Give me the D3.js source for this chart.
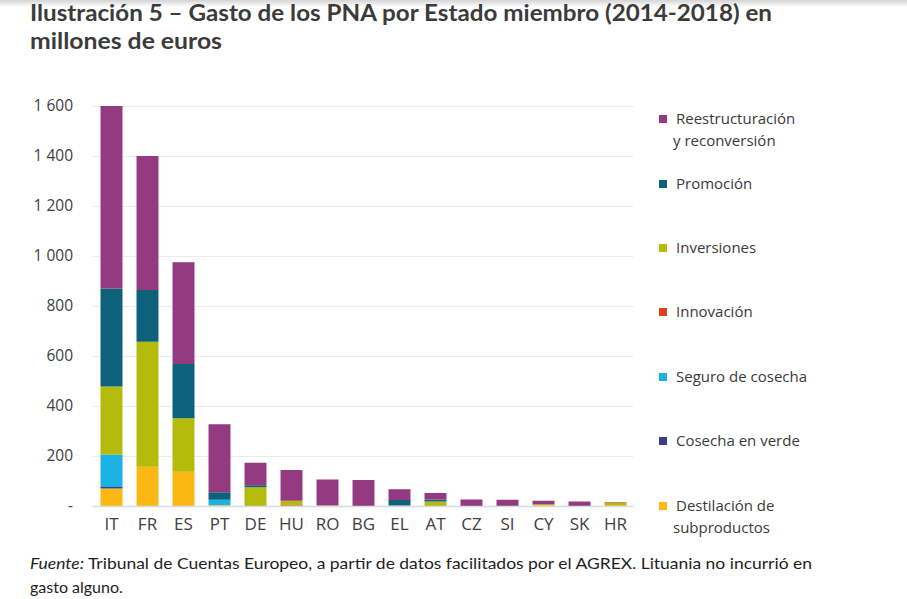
<!DOCTYPE html>
<html>
<head>
<meta charset="utf-8">
<script src="https://cdn.jsdelivr.net/npm/d3@7"></script>
<style>
  body { margin: 0; background: #fff; }
  svg { display: block; }
</style>
</head>
<body>
<div id="chart"></div>
<script>
// Estados miembros, en el orden del gráfico
var paises = ["IT", "FR", "ES", "PT", "DE", "HU", "RO", "BG", "EL", "AT", "CZ", "SI", "CY", "SK", "HR"];

var destilacion      = [70, 157, 137, 3, 0, 0, 0, 0, 0, 0, 0, 0, 3, 0, 4];
var cosechaVerde     = [6, 0, 0, 0, 0, 0, 0, 0, 0, 0, 0, 0, 0, 0, 0];
var seguroCosecha    = [130, 0, 0, 22, 0, 0, 0, 0, 0, 0, 0, 0, 0, 0, 0];
var innovacion       = [0, 0, 0, 0, 0, 3, 0, 0, 0, 0, 0, 0, 0, 0, 0];
var inversiones      = [272, 500, 214, 0, 75, 18, 2, 0, 2, 18, 0, 0, 4, 0, 10];
var promocion        = [392, 207, 217, 30, 8, 0, 0, 0, 22, 8, 0, 0, 0, 0, 0];
var reestructuracion = [730, 536, 407, 272, 90, 123, 104, 104, 43, 26, 26, 25, 14, 18, 2];

var yTicks = [0, 200, 400, 600, 800, 1000, 1200, 1400, 1600];

// series de abajo hacia arriba en la pila
var series = [
  {key: "dest", name: "Destilación de subproductos", values: destilacion, color: "#fbb812"},
  {key: "verde", name: "Cosecha en verde", values: cosechaVerde, color: "#3c3c8e"},
  {key: "seguro", name: "Seguro de cosecha", values: seguroCosecha, color: "#1bb1e2"},
  {key: "innov", name: "Innovación", values: innovacion, color: "#e2411d"},
  {key: "inv", name: "Inversiones", values: inversiones, color: "#b4bb0b"},
  {key: "prom", name: "Promoción", values: promocion, color: "#0d617a"},
  {key: "reest", name: "Reestructuración y reconversión", values: reestructuracion, color: "#933a80"}
];

// legend order (top to bottom) with line breaks
var legendItems = [
  {key: "reest", lines: ["Reestructuración", "y reconversión"]},
  {key: "prom", lines: ["Promoción"]},
  {key: "inv", lines: ["Inversiones"]},
  {key: "innov", lines: ["Innovación"]},
  {key: "seguro", lines: ["Seguro de cosecha"]},
  {key: "verde", lines: ["Cosecha en verde"]},
  {key: "dest", lines: ["Destilación de", "subproductos"]}
];

var width = 907, height = 599;
var plot = {left: 93.5, right: 633.5, top: 106, bottom: 506};

var svg = d3.select("#chart").append("svg")
    .attr("width", width)
    .attr("height", height);

// faint shadow strip at the top of the page
var defs = svg.append("defs");
var grad = defs.append("linearGradient")
    .attr("id", "topShade")
    .attr("x1", 0).attr("y1", 0).attr("x2", 0).attr("y2", 1);
grad.append("stop").attr("offset", "0%").attr("stop-color", "#d4d4d4");
grad.append("stop").attr("offset", "100%").attr("stop-color", "#ffffff");
svg.append("rect")
    .attr("x", 0).attr("y", 0)
    .attr("width", width).attr("height", 7)
    .style("fill", "url(#topShade)");

// rows for d3.stack
var rows = paises.map(function (p, i) {
    var r = {pais: p};
    series.forEach(function (s) { r[s.key] = s.values[i]; });
    return r;
});

var stack = d3.stack().keys(series.map(function (s) { return s.key; }));
var stacked = stack(rows);

var x = d3.scaleBand()
    .domain(paises)
    .range([plot.left, plot.right])
    .paddingInner(0.39)
    .paddingOuter(0.195);

var y = d3.scaleLinear()
    .domain([0, 1600])
    .range([plot.bottom, plot.top]);

var color = d3.scaleOrdinal()
    .domain(series.map(function (s) { return s.key; }))
    .range(series.map(function (s) { return s.color; }));

// gridlines
svg.append("g")
    .selectAll("line")
    .data(yTicks.filter(function (t) { return t > 0; }))
    .enter()
    .append("line")
    .attr("x1", plot.left - 1)
    .attr("x2", plot.right)
    .attr("y1", function (d) { return Math.round(y(d)) + 0.5; })
    .attr("y2", function (d) { return Math.round(y(d)) + 0.5; })
    .style("stroke", "#ebebeb")
    .style("stroke-width", 1);

// y axis labels, thousands separated by a space, zero as a dash
var fmt = d3.formatLocale({decimal: ",", thousands: "\u00a0", grouping: [3], currency: ["", "€"]}).format(",");
var yAxis = d3.axisLeft(y)
    .tickValues(yTicks)
    .tickSize(0)
    .tickPadding(0)
    .tickFormat(function (d) { return d === 0 ? "-" : fmt(d); });

var gy = svg.append("g")
    .attr("transform", "translate(73,0)")
    .call(yAxis);
gy.select(".domain").remove();
gy.selectAll("text")
    .attr("font-family", "'Open Sans', sans-serif")
    .attr("font-size", 15.5)
    .attr("fill", "#404040");

// bars
svg.append("g")
    .selectAll("g")
    .data(stacked)
    .enter()
    .append("g")
    .style("fill", function (d) { return color(d.key); })
    .selectAll("rect")
    .data(function (d) { return d; })
    .enter()
    .append("rect")
    .attr("x", function (d) { return x(d.data.pais); })
    .attr("width", x.bandwidth())
    .attr("y", function (d) { return y(d[1]); })
    .attr("height", function (d) { return y(d[0]) - y(d[1]); });

// baseline
svg.append("line")
    .attr("x1", plot.left - 1)
    .attr("x2", plot.right)
    .attr("y1", y(0) + 0.5)
    .attr("y2", y(0) + 0.5)
    .style("stroke", "#d5dbe3")
    .style("stroke-width", 1.5);

// x axis labels
var xAxis = d3.axisBottom(x).tickSize(0).tickPadding(0);
var gx = svg.append("g")
    .attr("transform", "translate(0,518)")
    .call(xAxis);
gx.select(".domain").remove();
gx.selectAll("text")
    .attr("font-family", "'Open Sans', sans-serif")
    .attr("font-size", 17)
    .attr("fill", "#404040");

// legend
var legendY = [119, 184, 248, 312, 377, 441, 506];
var legend = svg.append("g")
    .selectAll("g")
    .data(legendItems)
    .enter()
    .append("g")
    .attr("transform", function (d, i) { return "translate(659," + legendY[i] + ")"; });

legend.append("rect")
    .attr("x", 0)
    .attr("y", -4)
    .attr("width", 8)
    .attr("height", 8)
    .style("fill", function (d) { return color(d.key); });

legend.append("text")
    .attr("font-family", "'Open Sans', sans-serif")
    .attr("font-size", 15)
    .attr("fill", "#3a3a3a")
    .selectAll("tspan")
    .data(function (d) { return d.lines; })
    .enter()
    .append("tspan")
    .attr("x", function (d, i) { return i === 0 ? 17 : 14; })
    .attr("y", function (d, i) { return 5 + i * 22; })
    .text(function (d) { return d; });

// title
var title = svg.append("g")
    .attr("font-family", "Lato, sans-serif")
    .attr("font-weight", "bold")
    .attr("font-size", 22.5)
    .attr("fill", "#3b3b3b");
title.append("text")
    .attr("x", 30).attr("y", 21)
    .attr("textLength", 742)
    .attr("lengthAdjust", "spacingAndGlyphs")
    .text("Ilustración 5 – Gasto de los PNA por Estado miembro (2014-2018) en");
title.append("text")
    .attr("x", 30).attr("y", 49)
    .attr("textLength", 192)
    .attr("lengthAdjust", "spacingAndGlyphs")
    .text("millones de euros");

// source note
var nota = svg.append("g")
    .attr("font-family", "Lato, sans-serif")
    .attr("font-size", 16)
    .attr("fill", "#1e1e1e");
var l1 = nota.append("text")
    .attr("x", 30).attr("y", 569)
    .attr("textLength", 782)
    .attr("lengthAdjust", "spacingAndGlyphs");
l1.append("tspan").attr("font-style", "italic").text("Fuente:");
l1.append("tspan").text(" Tribunal de Cuentas Europeo, a partir de datos facilitados por el AGREX. Lituania no incurrió en");
nota.append("text")
    .attr("x", 30).attr("y", 593)
    .text("gasto alguno.");
</script>
</body>
</html>
